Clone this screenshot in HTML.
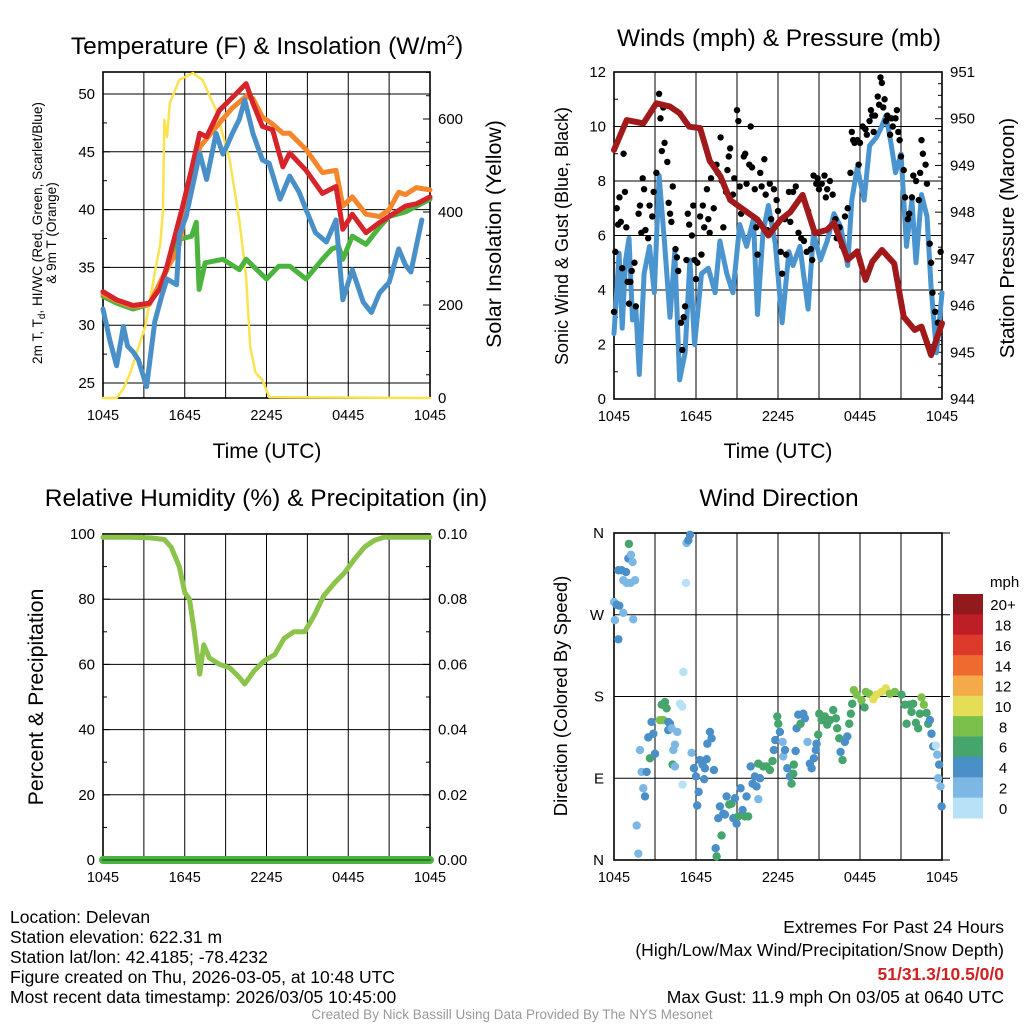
<!DOCTYPE html>
<html><head><meta charset="utf-8"><style>
html,body{margin:0;padding:0;background:#fff;}
svg{display:block;font-family:"Liberation Sans",sans-serif;}
</style></head><body>
<svg id="chart" width="1024" height="1024" viewBox="0 0 1024 1024">
<rect x="0" y="0" width="1024" height="1024" fill="#fff"/>
<g id="layer"></g>
<text x="267" y="54" font-size="24.5" text-anchor="middle">Temperature (F) &amp; Insolation (W/m<tspan dy="-9" font-size="15">2</tspan><tspan dy="9">)</tspan></text>
<text x="779" y="46" font-size="24.5" text-anchor="middle">Winds (mph) &amp; Pressure (mb)</text>
<text x="266" y="506" font-size="24.5" text-anchor="middle">Relative Humidity (%) &amp; Precipitation (in)</text>
<text x="779" y="506" font-size="24.5" text-anchor="middle">Wind Direction</text>

<text transform="translate(42,233) rotate(-90)" font-size="13.6" text-anchor="middle">2m T, T<tspan dy="3" font-size="10">d</tspan><tspan dy="-3">, HI/WC (Red, Green, Scarlet/Blue)</tspan></text>
<text transform="translate(56,233) rotate(-90)" font-size="13.6" text-anchor="middle">&amp; 9m T (Orange)</text>
<text transform="translate(501,234) rotate(-90)" font-size="21.3" text-anchor="middle">Solar Insolation (Yellow)</text>
<text x="267" y="458" font-size="21" text-anchor="middle">Time (UTC)</text>
<text transform="translate(568,236) rotate(-90)" font-size="18" text-anchor="middle">Sonic Wind &amp; Gust (Blue, Black)</text>
<text transform="translate(1014,238) rotate(-90)" font-size="20.5" text-anchor="middle">Station Pressure (Maroon)</text>
<text x="778" y="458" font-size="21" text-anchor="middle">Time (UTC)</text>
<text transform="translate(43,697) rotate(-90)" font-size="21.3" text-anchor="middle">Percent &amp; Precipitation</text>
<text transform="translate(567,696) rotate(-90)" font-size="18.5" text-anchor="middle">Direction (Colored By Speed)</text>

<g font-size="17.5">
<text x="10" y="923">Location: Delevan</text>
<text x="10" y="943">Station elevation: 622.31 m</text>
<text x="10" y="963">Station lat/lon: 42.4185; -78.4232</text>
<text x="10" y="983">Figure created on Thu, 2026-03-05, at 10:48 UTC</text>
<text x="10" y="1003">Most recent data timestamp: 2026/03/05 10:45:00</text>
</g>
<g font-size="17.5" text-anchor="end">
<text x="1004" y="933">Extremes For Past 24 Hours</text>
<text x="1004" y="956">(High/Low/Max Wind/Precipitation/Snow Depth)</text>
<text x="1004" y="980" fill="#d32020" font-weight="bold">51/31.3/10.5/0/0</text>
<text x="1004" y="1003">Max Gust: 11.9 mph On 03/05 at 0640 UTC</text>
</g>
<text x="512" y="1019" font-size="13.5" fill="#999" text-anchor="middle">Created By Nick Bassill Using Data Provided By The NYS Mesonet</text>
</svg>
<script>
// ---------- data ----------
const timeTickLabels = ["1045","1645","2245","0445","1045"];
const tempTicks = [25,30,35,40,45,50];
const solarTicks = [0,200,400,600];
const windTicks = [0,2,4,6,8,10,12];
const presTicks = [944,945,946,947,948,949,950,951];
const rhTicks = [0,20,40,60,80,100];
const precipTicks = ["0.00","0.02","0.04","0.06","0.08","0.10"];
const dirTickLabels = ["N","E","S","W","N"];
const speedBins = ["0","2","4","6","8","10","12","14","16","18","20+"];

const redT = [0,1,2.2,3.4,4.2,4.7,5.3,5.85,6.5,7.1,7.6,8.55,9.5,10.5,11,11.7,12.45,13.2,13.7,14.9,16.1,17.1,17.6,18.3,19.3,20.2,21,22.2,23,24];
const redV = [32.9,32.2,31.7,31.9,33.2,35.1,37.8,40.3,43.5,46.6,46.3,48.6,49.7,50.9,49.2,47.2,46.9,43.7,44.9,43.4,41.4,42,38.3,39.6,38,38.8,39.4,40.3,40.5,41.1];
const orangeT = [0,1,2.2,3.4,4.7,5.5,6.2,7.1,8.55,9.5,10.5,11,11.7,12.45,13.2,13.7,14.9,16.1,17.1,17.6,18.3,19.3,20.3,21,21.7,22.2,23,24];
const orangeV = [32.7,32.1,31.6,31.8,34.9,36.5,40.5,45.4,47.5,48.8,49.8,49.6,48,47.4,46.6,46.6,45.2,43.2,43.4,40.3,41.1,39.6,39.4,40,41.5,41.3,41.9,41.7];
const greenT = [0,1,2.2,3.4,4.7,5.5,6.5,6.85,7.05,7.5,8.8,10,10.5,12,12.9,13.7,14.9,16.1,16.8,17.3,17.6,18.3,19.3,20.3,21,22.2,24];
const greenV = [32.5,31.9,31.4,31.8,34.8,37.4,37.7,38.9,33.1,35.4,35.7,34.8,35.7,34,35.1,35.1,34,35.7,36.6,36.8,35.7,37.7,37,38.5,39.4,39.8,40.9];
const blueT = [0,0.5,1,1.5,1.8,2.2,2.6,3.2,3.8,4.3,4.7,5.4,5.6,6.1,6.85,7.1,7.6,8.3,8.8,9.05,9.5,10,10.4,11,11.7,12.2,13,13.7,14.4,14.9,15.6,16.4,17.1,17.6,18.3,19.1,19.7,20.3,21,21.7,22.2,22.6,23.4];
const blueV = [31.4,28.7,26.5,29.9,28.2,27.7,27,24.7,30.3,32.5,34,33.5,37.8,39.4,43.5,44.9,42.6,46.6,44.8,45.4,46.6,47.8,49.5,46.6,44.3,44,40.9,42.9,41.5,40,38,37.2,39.1,32.2,34.8,32,31.1,32.8,33.7,36.6,35.2,34.6,39.1];
const solarT = [0,1,1.5,2,2.5,3.1,3.8,4.2,4.4,4.5,4.7,4.9,5.6,6.6,7.3,8.3,9.3,10,10.5,10.8,11.2,11.7,12.2,24];
const solarV = [0,0,20,54,100,153,269,330,404,598,561,634,684,699,684,619,512,383,260,110,54,39,2,0];

const windT = [0,0.37,0.6,0.85,1.1,1.35,1.6,1.85,2.2,2.6,2.95,3.3,3.7,4.1,4.45,4.8,5.2,5.55,5.9,6.4,6.9,7.4,7.75,8.25,8.7,9.2,9.7,10.2,10.5,10.9,11.3,11.8,12.3,12.8,13.1,13.6,14.2,14.6,15.1,15.6,16.1,16.6,17.1,17.4,17.8,18.3,18.7,19.2,19.5,19.9,20.3,20.6,21,21.4,21.8,22.1,22.5,22.9,23.2,23.6,24];
const windV = [2.4,5.35,2.6,5.1,5.9,2.9,3.3,0.9,4.6,5.6,3.9,8.2,5.7,3,5.4,0.7,1.7,5.1,2,4.6,4.8,3.9,5.8,4.6,3.9,6.4,5.6,6.6,3.1,6.1,7.1,5.7,2.8,5.4,4.9,5.6,3.3,6.1,5.1,5.8,6.8,6.3,4.9,7.3,8.5,7.3,9.3,9.6,9.9,10.4,9.3,8.3,9,5.6,7.3,5,7.5,6.7,4.1,1.7,3.9];
const gustT = [0,0.1,0.2,0.3,0.4,0.5,0.6,0.7,0.8,0.9,1,1.1,1.2,1.3,1.5,1.6,1.8,1.9,2,2.1,2.2,2.3,2.5,2.6,2.8,2.9,3.1,3.3,3.4,3.5,3.6,3.7,3.9,4,4.1,4.2,4.3,4.5,4.6,4.7,4.9,5,5.1,5.2,5.3,5.4,5.5,5.7,5.8,5.9,6,6.1,6.3,6.4,6.5,6.6,6.8,6.9,7,7.1,7.3,7.5,7.6,7.8,7.9,8,8.2,8.3,8.4,8.5,8.7,8.8,9,9.1,9.2,9.3,9.5,9.6,9.7,9.9,10,10.1,10.3,10.4,10.5,10.7,10.8,11,11.1,11.2,11.4,11.5,11.7,11.9,12,12.2,12.3,12.5,12.6,12.8,12.9,13.1,13.3,13.5,13.7,13.9,14.1,14.2,14.4,14.5,14.6,14.8,14.9,15,15.2,15.4,15.5,15.6,15.8,16,16.2,16.3,16.5,16.7,16.9,17.1,17.3,17.4,17.5,17.6,17.8,17.9,18,18.2,18.4,18.5,18.7,18.8,18.9,19,19.1,19.3,19.4,19.5,19.6,19.7,19.8,19.9,20,20.2,20.3,20.4,20.6,20.7,20.8,20.9,21,21.2,21.3,21.5,21.6,21.8,21.9,22.1,22.3,22.4,22.5,22.6,22.8,22.9,23.1,23.2,23.3,23.5,23.7,23.9];
const gustV = [3.2,5.4,7,6.4,7.4,6.5,4.8,9,7.6,6.3,4.3,3.5,4.3,4.7,5,3.4,6.8,7.1,6.1,8.1,7.7,6.2,5.9,7.1,6.7,7.6,8.3,11.2,10.3,9.1,10.7,9.4,8.7,7.2,6.8,6.5,7.8,5.5,5.2,4.7,2.8,1.8,3,3.4,5.1,6.8,6.4,6,7.1,5.1,4.4,5,6.7,5.3,7.1,6.3,7.7,6.6,6.1,8.1,7,8.6,8.3,9.6,8,6.3,7.6,8.4,8.9,9.2,7.5,8.1,10.6,10.2,7.8,6.8,8.9,9,7.9,8.6,10,8.5,7.7,6.3,5.3,8.3,7.8,8.8,7.5,6.2,7.9,6.6,7.7,7.3,6.9,5.4,4.6,6.6,5.3,7.6,6.5,7.6,7.8,6.1,5.9,5.8,5.4,6.9,5.5,5.1,8.2,7.9,8.1,7.7,7.9,8.2,7.4,7.7,8,7.5,6.6,5.9,6.3,5.6,6.7,7,8.3,9.8,9.5,9.4,9.5,8.6,9.4,10,9.9,9.7,10.2,10.6,10.4,9.8,10.4,11.1,10.8,11.8,11.6,10.7,11,10.2,10.4,9.7,10.3,10,10.3,10.6,9.8,9.5,8.9,8.4,7.4,6.6,6.8,7.4,8.2,8,7.3,8.3,9.5,9,8.6,7.9,5.7,5,3.9,3.2,2.8,5.4];
const presT = [0,0.93,2.15,3.1,4.1,4.8,5.5,6.3,7,7.8,8.5,9.5,10.5,11.3,12.2,12.9,13.8,14.7,15.6,16.1,17.1,17.8,18.4,18.9,19.6,20.5,21.2,22,22.5,23.2,24];
const presV = [949.33,949.97,949.9,950.33,950.26,950.12,949.83,949.8,949.1,948.76,948.26,948.05,947.84,947.5,947.84,948,948.37,947.55,947.62,947.77,946.98,947.16,946.55,946.94,947.19,946.9,945.76,945.48,945.55,944.94,945.62];

const rhT = [0,2,3.5,4.5,5,5.6,6,6.35,6.7,7.1,7.4,7.8,8.55,9.3,10,10.4,11.1,11.8,12.6,13.3,14,14.8,15.5,16.2,17,17.7,18.4,19.2,19.9,20.6,24];
const rhV = [99,99,98.8,98.3,96,90,82,80,70,57,66,62,60,59,56,54,58,61,63,68,70,70,75,81,85,88,92,96,98,99,99];
const precipT = [0,24];
const precipV = [0,0];

const dirT = [0,0.07,0.2,0.39,0.32,0.68,1.41,0.32,0.56,0.88,0.68,0.93,1.22,1.54,1.05,1.24,1.36,1.09,1.66,1.78,1.9,2.02,2.14,2.27,2.39,2.63,2.51,2.75,2.88,3,3.36,3.49,3.73,3.85,3.61,3.97,4.1,3.97,4.22,4.34,4.46,4.63,4.29,4.46,4.83,5,5.07,5.27,5.31,5.44,5.56,5.02,5.68,5.85,6,6.09,6.19,6.29,6.48,6.65,6.78,6.6,6.83,7.02,7.14,7.31,7.44,7.51,7.63,7.75,7.87,8,8.12,8.24,8.43,8.6,8.73,8.85,8.97,9.09,9.26,9.41,9.58,9.82,9.7,10,10.14,10.31,10.43,10.56,10.68,10.56,10.92,11.16,11.41,11.6,11.7,11.8,11.95,12.02,12.14,12.34,12.38,12.51,12.68,12.87,12.99,13.12,13.16,13.29,13.36,13.48,13.65,13.85,13.97,14.16,14.33,14.46,14.63,14.77,14.82,14.94,15.02,15.19,15.43,15.6,15.8,16.04,16.24,16.33,16.48,16.58,16.72,16.89,17.07,17.21,17.33,17.43,17.55,17.75,18.11,18.33,18.43,18.67,18.97,19.21,19.58,19.89,20.18,20.55,21.04,21.28,21.41,21.6,21.77,21.89,22.09,22.26,22.38,22.5,22.67,22.87,22.99,23.11,23.23,23.36,23.55,23.65,23.79,23.72,23.89,23.97];
const dirV = [284,264,281,280,243,272,265,319,319,317,308,305,305,308,332,336,328,348,38,7,121,97,79,70,97,112,135,152,139,117,154,171,174,167,154,152,150,143,145,121,127,141,105,103,172,169,207,305,349,352,358,83,118,101,92,60,75,110,105,101,111,89,128,141,134,99,13,4,46,59,27,51,50,70,61,62,46,68,40,48,79,55,48,48,70,103,84,92,81,67,90,106,103,103,99,109,121,132,158,150,141,130,114,121,101,92,84,95,105,120,145,160,150,161,156,130,106,101,112,121,128,138,161,154,158,149,154,165,156,145,134,119,110,130,136,150,161,172,187,182,176,168,185,183,177,182,185,189,183,185,182,171,150,171,163,172,151,145,161,179,171,162,150,154,139,125,126,116,105,90,81,59];
const dirSpd = [3,3,5,5,5,3,3,5,5,5,3,3,3,3,5,3,3,7,3,3,3,3,3,5,5,7,5,5,5,5,9,7,7,7,9,5,5,5,3,3,3,3,7,3,1,1,1,1,3,5,5,1,3,5,5,5,5,5,5,5,5,5,5,5,5,5,5,7,5,5,7,5,5,5,7,7,5,5,5,7,5,5,7,7,5,5,5,5,5,3,5,7,7,7,7,7,5,5,7,7,5,3,3,5,5,5,7,7,7,5,5,5,7,5,5,3,5,5,5,5,5,7,7,7,7,7,7,7,7,7,7,5,7,5,5,7,7,7,9,9,9,7,9,9,11,11,11,11,9,9,7,7,7,7,7,7,7,7,7,9,9,7,7,5,5,5,1,3,5,3,3,5];
const binColors = ["#b6e1f7","#7cb8e3","#4a8fc7","#45a56c","#7bc04b","#e3de55","#f5aa4a","#ee6a2f","#dd3a2c","#be1e26","#921a1c"];

// ---------- helpers ----------
const NS = "http://www.w3.org/2000/svg";
const layer = document.getElementById("layer");
function mk(tag, attrs, parent){const e=document.createElementNS(NS,tag);for(const k in attrs)e.setAttribute(k,attrs[k]);(parent||layer).appendChild(e);return e;}
function lin(d0,d1,r0,r1){return v=>r0+(v-d0)*(r1-r0)/(d1-d0);}
function pathD(xs,ys,fx,fy){return xs.map((t,i)=>(i?"L":"M")+fx(t).toFixed(1)+" "+fy(ys[i]).toFixed(1)).join(" ");}

const P1={l:103,r:430,t:72,b:398}, P2={l:614,r:942,t:72,b:399}, P3={l:103,r:430,t:534,b:860}, P4={l:614,r:942,t:533,b:860};

function frame(P,name,hVals,fy,extend){
  const g=mk("g",{});
  
  
  const fx=lin(0,24,P.l,P.r);
  for(let h=3;h<24;h+=3){const l=mk("line",{x1:fx(h),x2:fx(h),y1:P.t,y2:P.b,stroke:"#000","stroke-width":1},g);
    
    }
  hVals.forEach(v=>{const y=fy(v);const l=mk("line",{x1:P.l,x2:P.r+(extend||0),y1:y,y2:y,stroke:"#000","stroke-width":1},g);
    
    });
  const b=mk("rect",{x:P.l,y:P.t,width:P.r-P.l,height:P.b-P.t,fill:"none",stroke:"#000","stroke-width":1.6},g);
  
  
  timeTickLabels.forEach((s,i)=>{const x=fx(i*6);
    const t=mk("text",{x:x,y:P.b+22,"font-size":14.5,"text-anchor":"middle"},g);t.textContent=s;
    
    });
  return fx;
}
function yTicks(P,vals,labels,fy,side,minor,fs){
  vals.forEach((v,i)=>{const y=fy(v);
    const t=mk("text",{x:side==="l"?P.l-8:P.r+8,y:y+5,"font-size":fs||15,"text-anchor":side==="l"?"end":"start"});
    t.textContent=labels?labels[i]:v;
    
    
    mk("line",{x1:side==="l"?P.l:P.r,x2:side==="l"?P.l+7:P.r-7,y1:y,y2:y,stroke:"#000","stroke-width":1});});
  (minor||[]).forEach(v=>{const y=fy(v);if(y<P.t||y>P.b)return;mk("line",{x1:side==="l"?P.l:P.r,x2:side==="l"?P.l+4:P.r-4,y1:y,y2:y,stroke:"#000","stroke-width":1});});
}
function series(fx,fy,xs,ys,color,w,name){
  const p=mk("path",{d:pathD(xs,ys,fx,fy),fill:"none",stroke:color,"stroke-width":w,"stroke-linejoin":"round","stroke-linecap":"round"});
  
  
  return p;
}

// ---------- panel 1: temperature ----------
const fyT=lin(25,50,383,94), fyS=lin(0,600,398,119);
const fx1=frame(P1,'temperature',tempTicks,fyT);
yTicks(P1,tempTicks,null,fyT,"l",[27.5,32.5,37.5,42.5,47.5]);
yTicks(P1,solarTicks,null,fyS,"r",[50,100,150,250,300,350,450,500,550,650,700]);
series(fx1,fyS,solarT,solarV,"#fbe34f",2.5,'solar-insolation-line');
series(fx1,fyT,greenT,greenV,"#4bb43f",5,'dewpoint-line');
series(fx1,fyT,orangeT,orangeV,"#f5862c",5,'nine-meter-temp-line');
series(fx1,fyT,redT,redV,"#d7242a",5,'two-meter-temp-line');
series(fx1,fyT,blueT,blueV,"#4a90c8",5,'wind-chill-line');

// ---------- panel 2: winds ----------
const fyW=lin(0,12,399,72), fyP=lin(944,951,399,72);
const fx2=frame(P2,'winds',windTicks,fyW);
yTicks(P2,windTicks,null,fyW,"l",[1,3,5,7,9,11]);
const pm=[];for(let p=944.25;p<951;p+=0.25)if(Math.abs(p-Math.round(p))>0.01)pm.push(p);
yTicks(P2,presTicks,null,fyP,"r",pm);
series(fx2,fyW,windT,windV,"#4a94cf",5,'sonic-wind-line');
gustT.forEach((t,i)=>{const c=mk("circle",{cx:fx2(t),cy:fyW(gustV[i]),r:3.2,fill:"#000"});
  
  });
series(fx2,fyP,presT,presV,"#a01a1c",6,'pressure-line');

// ---------- panel 3: humidity ----------
const fyR=lin(0,100,860,534);
const fx3=frame(P3,'humidity',rhTicks,fyR);
yTicks(P3,rhTicks,null,fyR,"l",[10,30,50,70,90]);
yTicks(P3,rhTicks,precipTicks,fyR,"r",[10,30,50,70,90]);
series(fx3,fyR,rhT,rhV,"#8cc34a",5,'relative-humidity-line');
series(fx3,v=>fyR(v*1000),precipT,precipV,"#4bb43f",8,'precipitation-line');
series(fx3,v=>fyR(v*1000),precipT,precipV,"#2c7a30",2,'precipitation-line-core');

// ---------- panel 4: wind direction ----------
const fyD=lin(0,360,860,533);
const fx4=frame(P4,'wind-direction',[0,90,180,270,360],fyD,8);
[0,90,180,270,360].forEach((v,i)=>{const t=mk("text",{x:P4.l-10,y:fyD(v)+5,"font-size":15,"text-anchor":"end"});t.textContent=dirTickLabels[i];
  
  });
dirT.forEach((t,i)=>{const bin=Math.min(10,Math.floor(dirSpd[i]/2));
  const c=mk("circle",{cx:fx4(t),cy:fyD(dirV[i]),r:4.2,fill:binColors[bin]});
  
  });
// colorbar
const cb=mk("g",{});


const cbTop=594, cbH=(818-594)/11;
const ut=mk("text",{x:990,y:587,"font-size":15},cb);ut.textContent="mph";


speedBins.forEach((s,i)=>{const k=10-i;const y=cbTop+i*cbH;
  const r=mk("rect",{x:953,y:y,width:30,height:cbH+0.5,fill:binColors[k]},cb);
  
  
  const t=mk("text",{x:1003,y:y+cbH/2+6,"font-size":15,"text-anchor":"middle"},cb);t.textContent=speedBins[k];
  
  });
</script>
</body></html>
